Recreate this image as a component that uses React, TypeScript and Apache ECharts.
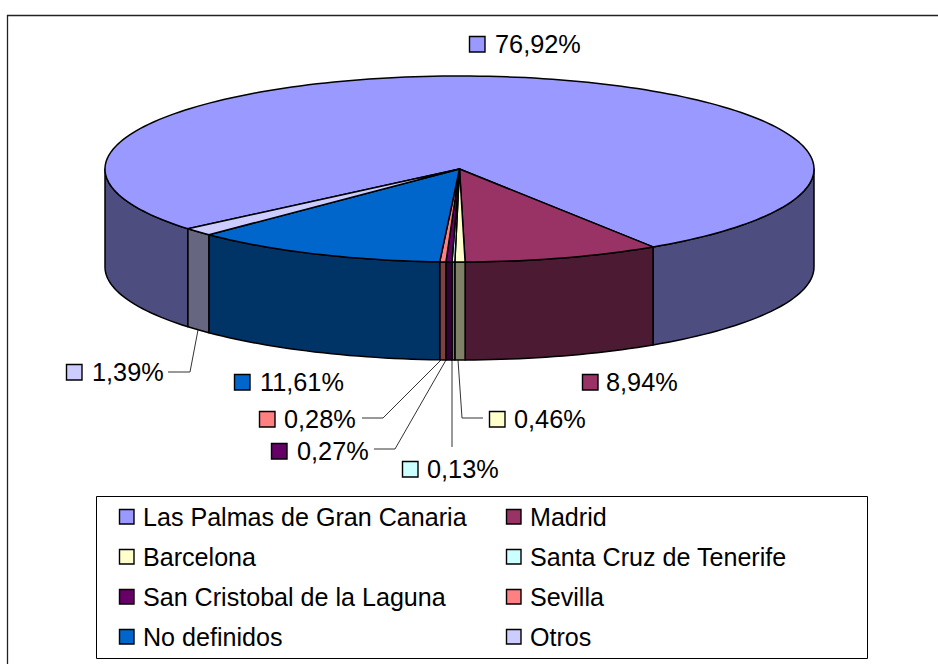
import React, { useEffect, useRef } from "react";
import * as echarts from "echarts";

const categories = ["Las Palmas de Gran Canaria", "Madrid", "Barcelona", "Santa Cruz de Tenerife", "San Cristobal de la Laguna", "Sevilla", "No definidos", "Otros"];
const shares = [76.92, 8.94, 0.46, 0.13, 0.27, 0.28, 11.61, 1.39];
const shareLabels = ["76,92%", "8,94%", "0,46%", "0,13%", "0,27%", "0,28%", "11,61%", "1,39%"];
const topColors = ["#9999FF", "#993366", "#FFFFCC", "#CCFFFF", "#660066", "#FF8080", "#0066CC", "#CCCCFF"];
const wallColors = ["#4D4D80", "#4D1A33", "#808066", "#668080", "#330033", "#804040", "#003366", "#666680"];
const firstSliceAngle = 230;

const FONT = "Liberation Sans";
const CX = 459.5, CY = 169, RX = 354.5, RY = 93, DEPTH = 98;
const STROKE = "#000";
const LINE = "#333";

// swatch x, centre y, text x for each data label
const labelPos: number[][] = [
  [477, 44, 495], [590, 382, 606], [497, 419, 514], [410, 469, 427],
  [279, 451, 297], [267, 419, 284], [242, 382, 260], [74, 372, 92],
];
const leaders: number[][][] = [
  [], [],
  [[483, 418], [462, 418], [458, 360]],
  [[452, 447], [452, 360]],
  [[374, 449], [395, 449], [446, 360]],
  [[362, 418], [383, 418], [441, 360]],
  [],
  [[168, 372], [190, 372], [198, 330]],
];

const pt = (deg: number, dy = 0): number[] => {
  const t = (deg * Math.PI) / 180;
  return [CX + RX * Math.sin(t), CY - RY * Math.cos(t) + dy];
};
const arc = (a0: number, a1: number, dy = 0): number[][] => {
  const n = Math.max(2, Math.ceil(Math.abs(a1 - a0) / 1.5));
  const out: number[][] = [];
  for (let i = 0; i <= n; i++) out.push(pt(a0 + ((a1 - a0) * i) / n, dy));
  return out;
};

const startAngles: number[] = [];
shares.reduce((acc, v) => {
  startAngles.push(acc);
  return acc + (v / 100) * 360;
}, firstSliceAngle);

const renderSlice = (params: any, api: any) => {
  const i = params.dataIndex;
  const a0 = startAngles[i];
  const a1 = a0 + (api.value(0) / 100) * 360;
  const style = { lineWidth: 1.5, stroke: STROKE, lineJoin: "round" };
  const children: any[] = [];
  // front-facing wall: the part of the slice between 90 and 270 degrees
  for (const off of [-360, 0, 360]) {
    const s = Math.max(a0 + off, 90);
    const e = Math.min(a1 + off, 270);
    if (e > s) {
      children.push({
        type: "polygon",
        shape: { points: [...arc(s, e), ...arc(e, s, DEPTH)] },
        style: { ...style, fill: wallColors[i] },
      });
    }
  }
  children.push({
    type: "polygon",
    shape: { points: [[CX, CY], ...arc(a0, a1)] },
    style: { ...style, fill: topColors[i] },
  });
  return { type: "group", children };
};

const swatch = (cx: number, cy: number, fill: string, s: number) => ({
  type: "rect",
  shape: { x: Math.round(cx - 8) + 0.5, y: Math.round(cy - 8) + 0.5, width: s, height: s },
  style: { fill, stroke: "#000", lineWidth: 1.4 },
});
const text = (x: number, y: number, t: string, size: number) => ({
  type: "text",
  x,
  y,
  style: { text: t, fill: "#000", font: `${size}px "${FONT}"`, verticalAlign: "middle" },
});

export default function App() {
  const ref = useRef<HTMLDivElement>(null);
  useEffect(() => {
    const chart = echarts.init(ref.current!, null, { renderer: "svg" });
    const elements: any[] = [
      {
        type: "rect",
        shape: { x: 7.5, y: 15.5, width: 960, height: 680 },
        style: { fill: "#fff", stroke: "#222", lineWidth: 1.3 },
        z: -10,
      },
      {
        type: "rect",
        shape: { x: 96.5, y: 496.5, width: 771, height: 162 },
        style: { fill: "#fff", stroke: "#000", lineWidth: 1 },
        z: -5,
      },
    ];
    shareLabels.forEach((t, i) => {
      const [sx, cy, tx] = labelPos[i];
      elements.push(swatch(sx, cy, topColors[i], 15.5));
      elements.push(text(tx, cy, t, 25.3));
      if (leaders[i].length) {
        elements.push({
          type: "polyline",
          shape: { points: leaders[i] },
          style: { stroke: LINE, lineWidth: 1, fill: "none" },
        });
      }
    });
    categories.forEach((c, i) => {
      const col = i % 2;
      const row = Math.floor(i / 2);
      const cy = 517 + row * 40;
      elements.push(swatch(col ? 514 : 127, cy, topColors[i], 14.5));
      elements.push(text(col ? 530 : 143, cy, c, 25.1));
    });
    chart.setOption({
      animation: false,
      backgroundColor: "#fff",
      series: [
        {
          type: "custom",
          coordinateSystem: "none",
          silent: true,
          clip: false,
          renderItem: renderSlice,
          data: shares.map((v, i) => ({ name: categories[i], value: [v] })),
          encode: { value: 0 },
          z: 2,
        },
      ],
      graphic: { elements },
    });
    return () => chart.dispose();
  }, []);
  return <div ref={ref} style={{ position: "absolute", left: 0, top: 0, width: 938, height: 664 }} />;
}
